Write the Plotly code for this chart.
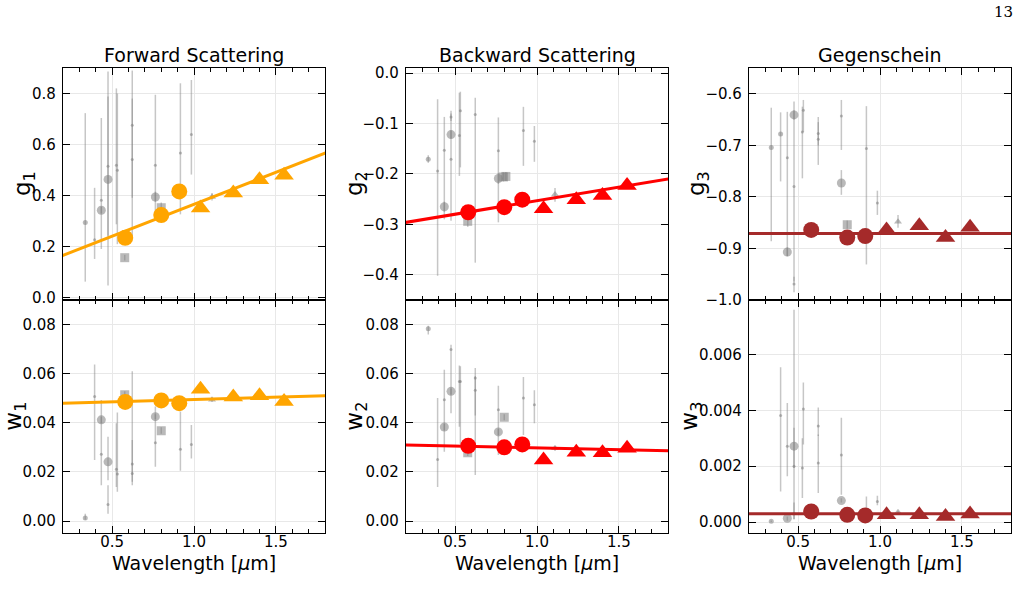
import plotly.graph_objects as go

# ---------------- data ----------------
WL_CIRC = [0.58, 0.80, 0.91]
WL_TRI = [1.04, 1.24, 1.40, 1.55]

G1_CIRC = [0.234, 0.323, 0.416]
G1_TRI = [0.351, 0.410, 0.462, 0.479]
G2_CIRC = [-0.276, -0.266, -0.251]
G2_TRI = [-0.269, -0.251, -0.243, -0.223]
G3_CIRC = [-0.864, -0.879, -0.876]
G3_TRI = [-0.864, -0.856, -0.879, -0.859]
W1_CIRC = [0.0485, 0.0491, 0.0480]
W1_TRI = [0.0537, 0.0505, 0.0510, 0.0487]
W2_CIRC = [0.0306, 0.0300, 0.0312]
W2_TRI = [0.0248, 0.0280, 0.0278, 0.0296]
W3_CIRC = [0.00038, 0.00026, 0.00024]
W3_TRI = [0.00026, 0.00026, 0.00020, 0.00029]

# linear fits: (intercept, slope)
FIT_G1 = (0.115, 0.2506)
FIT_G2 = (-0.3068, 0.05375)
FIT_G3 = (-0.871, 0.0)
FIT_W1 = (0.047625, 0.001875)
FIT_W2 = (0.0313, -0.0015)
FIT_W3 = (0.0003, 0.0)

# literature points: (wavelength, value, lower, upper, kind)
# kind: c = circle, s = small dot, t = tiny dot, q = square, v = triangle
LIT_G1 = [
    (0.336, 0.294, 0.062, 0.723, 's'), (0.393, 0.226, 0.151, 0.430, 't'),
    (0.434, 0.381, 0.190, 0.704, 't'), (0.434, 0.342, 0.330, 0.355, 'c'),
    (0.475, 0.463, 0.047, 0.886, 'c'), (0.475, 0.515, 0.242, 0.788, 't'),
    (0.526, 0.519, 0.287, 0.820, 't'), (0.532, 0.499, 0.209, 0.800, 't'),
    (0.577, 0.156, 0.145, 0.167, 'q'), (0.623, 0.675, 0.230, 0.890, 't'),
    (0.623, 0.541, 0.391, 0.780, 't'), (0.764, 0.519, 0.330, 0.795, 't'),
    (0.764, 0.394, 0.375, 0.415, 'c'), (0.800, 0.352, 0.326, 0.372, 'q'),
    (0.917, 0.567, 0.326, 0.840, 't'), (0.984, 0.639, 0.482, 0.853, 't'),
    (1.110, 0.394, 0.380, 0.410, 'v'),
]
LIT_G2 = [
    (0.336, -0.171, -0.178, -0.163, 's'), (0.393, -0.194, -0.402, -0.052, 't'),
    (0.434, -0.153, -0.290, -0.087, 't'), (0.434, -0.265, -0.275, -0.255, 'c'),
    (0.475, -0.122, -0.130, -0.114, 'c'), (0.475, -0.171, -0.293, -0.075, 't'),
    (0.475, -0.087, -0.095, -0.080, 't'), (0.526, -0.124, -0.204, -0.039, 't'),
    (0.532, -0.075, -0.187, -0.037, 't'), (0.577, -0.294, -0.305, -0.283, 'q'),
    (0.623, -0.082, -0.376, -0.049, 't'), (0.764, -0.209, -0.220, -0.198, 'c'),
    (0.764, -0.154, -0.296, -0.088, 't'), (0.795, -0.206, -0.215, -0.197, 'q'),
    (0.810, -0.205, -0.214, -0.196, 'q'), (0.917, -0.114, -0.184, -0.067, 't'),
    (0.984, -0.135, -0.176, -0.105, 't'), (1.110, -0.241, -0.255, -0.228, 'v'),
]
LIT_G3 = [
    (0.336, -0.704, -0.886, -0.627, 's'), (0.393, -0.678, -0.770, -0.636, 's'),
    (0.434, -0.724, -0.915, -0.635, 't'), (0.434, -0.907, -0.915, -0.898, 'c'),
    (0.475, -0.641, -0.650, -0.632, 'c'), (0.475, -0.780, -0.964, -0.615, 't'),
    (0.475, -0.969, -0.985, -0.955, 't'), (0.526, -0.674, -0.764, -0.625, 't'),
    (0.532, -0.632, -0.674, -0.612, 't'), (0.623, -0.677, -0.738, -0.645, 't'),
    (0.623, -0.688, -0.700, -0.655, 't'), (0.764, -0.773, -0.796, -0.748, 'c'),
    (0.764, -0.643, -0.709, -0.612, 't'), (0.800, -0.854, -0.862, -0.846, 'q'),
    (0.917, -0.706, -0.931, -0.624, 't'), (0.984, -0.812, -0.835, -0.788, 't'),
    (1.110, -0.848, -0.860, -0.835, 'v'),
]
LIT_W1 = [
    (0.336, 0.0012, 0.0005, 0.0030, 's'), (0.393, 0.0507, 0.0248, 0.0637, 't'),
    (0.434, 0.0412, 0.0400, 0.0425, 'c'), (0.434, 0.0272, 0.0146, 0.0493, 't'),
    (0.475, 0.0241, 0.0166, 0.0343, 'c'), (0.475, 0.0067, 0.0030, 0.0146, 't'),
    (0.526, 0.0211, 0.0139, 0.0398, 't'), (0.532, 0.0191, 0.0119, 0.0442, 't'),
    (0.577, 0.0514, 0.0500, 0.0528, 'q'), (0.623, 0.0232, 0.0146, 0.0610, 't'),
    (0.623, 0.0194, 0.0160, 0.0330, 't'), (0.764, 0.0425, 0.0415, 0.0435, 'c'),
    (0.764, 0.0319, 0.0221, 0.0466, 't'), (0.800, 0.0368, 0.0355, 0.0382, 'q'),
    (0.917, 0.0292, 0.0205, 0.0446, 't'), (0.984, 0.0312, 0.0255, 0.0391, 't'),
    (1.110, 0.0494, 0.0485, 0.0503, 'v'),
]
LIT_W2 = [
    (0.336, 0.0783, 0.0760, 0.0795, 's'), (0.393, 0.0251, 0.0139, 0.0501, 't'),
    (0.434, 0.0383, 0.0370, 0.0395, 'c'), (0.434, 0.0494, 0.0282, 0.0616, 't'),
    (0.475, 0.0528, 0.0515, 0.0540, 'c'), (0.475, 0.0698, 0.0439, 0.0718, 't'),
    (0.526, 0.0568, 0.0384, 0.0633, 't'), (0.532, 0.0568, 0.0315, 0.0630, 't'),
    (0.577, 0.0278, 0.0265, 0.0290, 'q'), (0.623, 0.0582, 0.0187, 0.0623, 't'),
    (0.623, 0.0532, 0.0430, 0.0590, 't'), (0.764, 0.0363, 0.0350, 0.0375, 'c'),
    (0.764, 0.0453, 0.0269, 0.0551, 't'), (0.800, 0.0423, 0.0410, 0.0435, 'q'),
    (0.917, 0.0501, 0.0350, 0.0586, 't'), (0.984, 0.0473, 0.0398, 0.0532, 't'),
    (1.110, 0.0296, 0.0285, 0.0305, 'v'),
]
LIT_W3 = [
    (0.336, 0.00003, 0.0, 0.00006, 's'), (0.393, 0.00382, 0.0011, 0.00554, 't'),
    (0.434, 0.00014, 0.00005, 0.0002, 'c'), (0.434, 0.00272, 0.00164, 0.00426, 't'),
    (0.475, 0.00272, 0.00194, 0.00338, 'c'), (0.475, 0.0020, 0.0001, 0.0076, 't'),
    (0.475, 0.0003, 0.0001, 0.0007, 't'), (0.526, 0.00194, 0.00086, 0.0030, 't'),
    (0.532, 0.00405, 0.00278, 0.0050, 't'), (0.623, 0.00344, 0.00308, 0.0041, 't'),
    (0.623, 0.00212, 0.00104, 0.00314, 't'), (0.764, 0.00077, 0.0007, 0.00085, 'c'),
    (0.764, 0.0024, 0.00098, 0.00374, 't'), (0.800, 0.0003, 0.00025, 0.00035, 'q'),
    (0.917, 0.0004, 0.0001, 0.00092, 't'), (0.984, 0.00074, 0.0006, 0.00094, 't'),
    (1.110, 0.00035, 0.0003, 0.0004, 'v'),
]

TITLES = ["Forward Scattering", "Backward Scattering", "Gegenschein"]
YLABELS = ["g<sub>1</sub>", "g<sub>2</sub>", "g<sub>3</sub>",
           "w<sub>1</sub>", "w<sub>2</sub>", "w<sub>3</sub>"]
XLABEL = "Wavelength [<i>μ</i>m]"
COLORS = ["orange", "red", "brown"]

# ---------------- layout geometry ----------------
W, H = 1023, 600
COL_PX = [(63, 325), (406, 668), (749, 1011)]
ROW_PX = [(68, 300), (300, 533.3)]
YLABEL_X = [24, 356, 698, 15, 356, 691]
YRANGES = [[-0.01, 0.9], [-0.45, 0.01], [-1.0, -0.55],
           [-0.005, 0.09], [-0.005, 0.09], [-0.0004, 0.00795]]
YDTICK = [0.2, 0.1, 0.1, 0.02, 0.02, 0.002]
YFMT = [".1f", ".1f", ".1f", ".2f", ".2f", ".3f"]

panels = [
    (G1_CIRC, G1_TRI, FIT_G1, LIT_G1),
    (G2_CIRC, G2_TRI, FIT_G2, LIT_G2),
    (G3_CIRC, G3_TRI, FIT_G3, LIT_G3),
    (W1_CIRC, W1_TRI, FIT_W1, LIT_W1),
    (W2_CIRC, W2_TRI, FIT_W2, LIT_W2),
    (W3_CIRC, W3_TRI, FIT_W3, LIT_W3),
]

KIND_STYLE = {
    'c': dict(symbol='circle', size=9),
    's': dict(symbol='circle', size=5),
    't': dict(symbol='circle', size=3),
    'q': dict(symbol='square', size=9),
    'v': dict(symbol='triangle-up', size=7),
}
GRAY_M = "rgba(128,128,128,0.55)"
GRAY_E = "rgba(128,128,128,0.45)"

fig = go.Figure()
layout = {}
font_axis = dict(family="DejaVu Sans", size=15, color="black")

for i, (circ, tri, fit, lit) in enumerate(panels):
    r, c = divmod(i, 3)
    n = i + 1
    xa = "x" if n == 1 else f"x{n}"
    ya = "y" if n == 1 else f"y{n}"
    color = COLORS[c]

    # literature points by kind
    for kind, st in KIND_STYLE.items():
        pts = [p for p in lit if p[4] == kind]
        if not pts:
            continue
        fig.add_trace(go.Scatter(
            x=[p[0] for p in pts], y=[p[1] for p in pts], mode="markers",
            marker=dict(symbol=st['symbol'], size=st['size'], color=GRAY_M,
                        line=dict(width=0)),
            error_y=dict(type="data", symmetric=False,
                         array=[p[3] - p[1] for p in pts],
                         arrayminus=[p[1] - p[2] for p in pts],
                         color=GRAY_E, thickness=1.5, width=0),
            xaxis=xa, yaxis=ya, showlegend=False, hoverinfo="skip"))

    # fit line
    xl = [0.0, 2.0]
    fig.add_trace(go.Scatter(
        x=xl, y=[fit[0] + fit[1] * v for v in xl], mode="lines",
        line=dict(color=color, width=3), xaxis=xa, yaxis=ya,
        showlegend=False, hoverinfo="skip"))
    # measured points
    fig.add_trace(go.Scatter(
        x=WL_CIRC, y=circ, mode="markers",
        marker=dict(symbol="circle", size=16, color=color, line=dict(width=0)),
        xaxis=xa, yaxis=ya, showlegend=False, cliponaxis=False))
    fig.add_trace(go.Scatter(
        x=WL_TRI, y=tri, mode="markers",
        marker=dict(symbol="triangle-up", size=17, color=color, line=dict(width=0)),
        xaxis=xa, yaxis=ya, showlegend=False, cliponaxis=False))

    x0, x1 = COL_PX[c]
    y0, y1 = ROW_PX[r]
    key_x = "xaxis" if n == 1 else f"xaxis{n}"
    key_y = "yaxis" if n == 1 else f"yaxis{n}"
    layout[key_x] = dict(
        domain=[x0 / W, x1 / W], anchor=ya, range=[0.2, 1.8],
        tick0=0.5, dtick=0.5, tickformat=".1f", automargin=False,
        ticks="inside", ticklen=7, tickwidth=1, tickcolor="black",
        minor=dict(dtick=0.1, tick0=0.0, ticks="inside", ticklen=4,
                   tickcolor="black", showgrid=False),
        showline=True, linecolor="black", linewidth=1.2, mirror="allticks",
        showgrid=True, gridcolor="#e8e8e8", gridwidth=1, zeroline=False,
        showticklabels=(r == 1), tickfont=font_axis, ticklabelstandoff=-5,
    )
    layout[key_y] = dict(
        domain=[1 - y1 / H, 1 - y0 / H], anchor=xa, range=YRANGES[i],
        tick0=0, dtick=YDTICK[i], tickformat=YFMT[i], automargin=False,
        ticks="inside", ticklen=7, tickwidth=1, tickcolor="black",
        showline=True, linecolor="black", linewidth=1.2, mirror="allticks",
        showgrid=True, gridcolor="#e8e8e8", gridwidth=1, zeroline=False,
        tickfont=font_axis, ticklabelstandoff=3,
    )

annotations = []
for c in range(3):
    x0, x1 = COL_PX[c]
    cx = (x0 + x1) / 2 / W
    annotations.append(dict(text=TITLES[c], x=cx, y=1 - 55 / H, xref="paper", yref="paper",
                            showarrow=False, xanchor="center", yanchor="middle",
                            font=dict(family="DejaVu Sans", size=19, color="black")))
    annotations.append(dict(text=XLABEL, x=cx, y=1 - 563 / H, xref="paper", yref="paper",
                            showarrow=False, xanchor="center", yanchor="middle",
                            font=dict(family="DejaVu Sans", size=19, color="black")))
    for r in range(2):
        y0, y1 = ROW_PX[r]
        annotations.append(dict(text=YLABELS[r * 3 + c], x=YLABEL_X[r * 3 + c] / W,
                                y=1 - (y0 + y1) / 2 / H,
                                xref="paper", yref="paper", showarrow=False,
                                xanchor="center", yanchor="middle", textangle=-90,
                                font=dict(family="DejaVu Sans", size=23, color="black")))
annotations.append(dict(text="13", x=1015 / W, y=1 - 12 / H, xref="paper", yref="paper",
                        showarrow=False, xanchor="right", yanchor="middle",
                        font=dict(family="DejaVu Serif", size=15, color="black")))

fig.update_layout(
    width=W, height=H, margin=dict(l=0, r=0, t=0, b=0, pad=0),
    paper_bgcolor="white", plot_bgcolor="white", showlegend=False,
    annotations=annotations, **layout)

fig.write_html("out.html")
